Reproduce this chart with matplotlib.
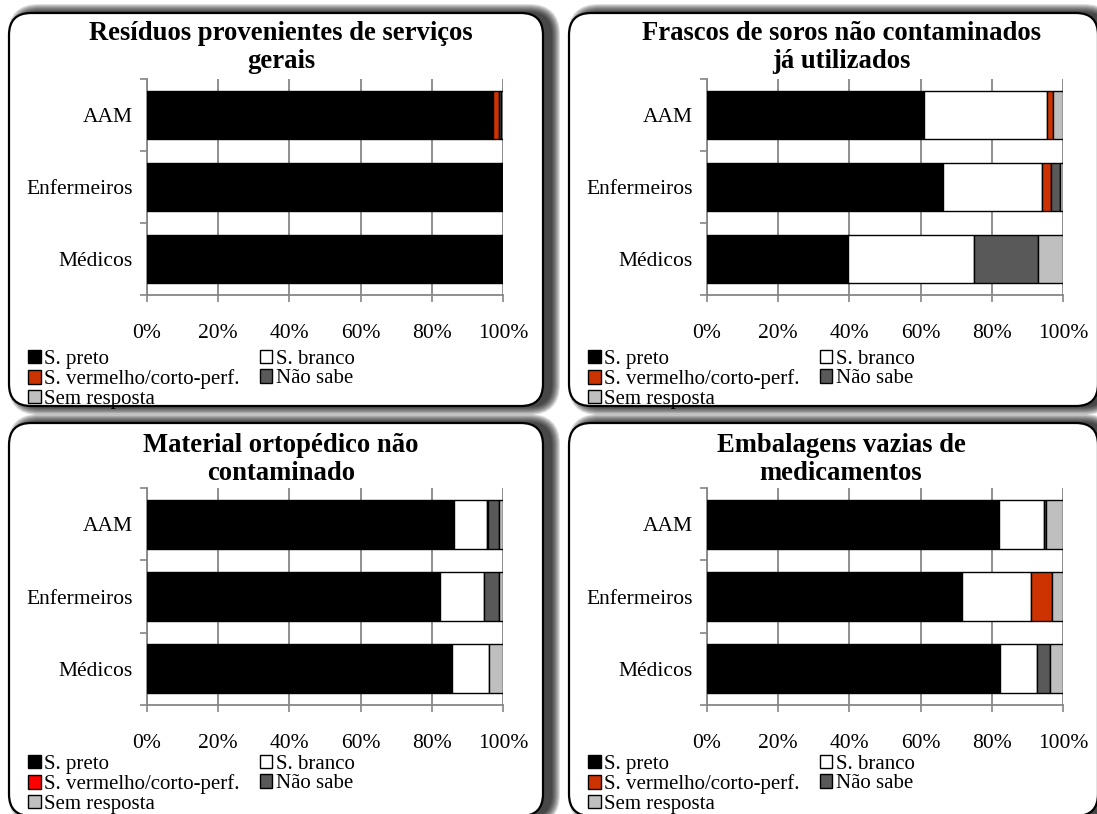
import numpy as np
import matplotlib.pyplot as plt
from matplotlib.patches import FancyBboxPatch, Patch

plt.rcParams['font.family'] = ['Liberation Serif', 'DejaVu Serif']

W, H = 1097, 814

#== Dados (percentagens) ==#
grupos = ['AAM', 'Enfermeiros', 'Médicos']
categorias = ['S. preto', 'S. branco', 'S. vermelho/corto-perf.', 'Não sabe', 'Sem resposta']
cores = ['#000000', '#FFFFFF', '#CC3300', '#595959', '#BFBFBF']
cores_p3 = ['#000000', '#FFFFFF', '#FF0000', '#595959', '#BFBFBF']

titulos = [['Resíduos provenientes de serviços', 'gerais'],
           ['Frascos de soros não contaminados', 'já utilizados'],
           ['Material ortopédico não', 'contaminado'],
           ['Embalagens vazias de', 'medicamentos']]

# linhas = grupos, colunas = categorias
servicos_gerais = [[96.8, 0.4, 1.6, 0.6, 0.6],
                   [100.0, 0.0, 0.0, 0.0, 0.0],
                   [100.0, 0.0, 0.0, 0.0, 0.0]]
frascos_soros = [[61.0, 34.5, 1.6, 0.0, 2.9],
                 [66.3, 27.9, 2.5, 2.4, 0.9],
                 [39.5, 35.4, 0.0, 18.0, 7.1]]
material_orto = [[86.1, 9.4, 0.4, 3.0, 1.1],
                 [82.4, 12.2, 0.0, 4.2, 1.2],
                 [85.7, 10.5, 0.0, 0.0, 3.8]]
embalagens = [[81.9, 12.8, 0.4, 0.0, 4.9],
              [71.5, 19.6, 5.8, 0.0, 3.1],
              [82.4, 10.3, 0.0, 3.6, 3.7]]

dados = [servicos_gerais, frascos_soros, material_orto, embalagens]

# caixas dos paineis (px) e areas dos eixos (px)
caixas = [(9, 13, 543, 406), (569, 13, 1098, 406),
          (9, 423, 543, 816), (569, 423, 1098, 816)]
eixos = [(147, 79, 503, 295), (707, 79, 1063, 295),
         (147, 488, 503, 705), (707, 488, 1063, 705)]

fig = plt.figure(figsize=(W / 100, H / 100), dpi=100)
bg = fig.add_axes([0, 0, 1, 1])
bg.set_xlim(0, W)
bg.set_ylim(H, 0)
bg.axis('off')

#== Caixas arredondadas com sombra ==#
for (x0, y0, x1, y1) in caixas:
    r = 22
    for k in range(9, 0, -1):
        sh = FancyBboxPatch((x0 + 8, y0), x1 - x0, y1 - y0,
                            boxstyle=f'round,pad={k},rounding_size={r + k}',
                            facecolor='black', edgecolor='none', alpha=0.13)
        bg.add_patch(sh)
    box = FancyBboxPatch((x0, y0), x1 - x0, y1 - y0,
                         boxstyle=f'round,pad=0,rounding_size={r}',
                         facecolor='white', edgecolor='black', linewidth=1.6)
    bg.add_patch(box)

centros_tit = [281, 841, 281, 841]
ytit = [(33, 61), (33, 61), (445, 473), (445, 473)]

y = np.arange(len(grupos))
for i, vals in enumerate(dados):
    vals = np.array(vals)
    x0, y0, x1, y1 = eixos[i]
    ax = fig.add_axes([x0 / W, 1 - y1 / H, (x1 - x0) / W, (y1 - y0) / H])
    ax.set_facecolor('none')
    cs = cores_p3 if i == 2 else cores
    left = np.zeros(len(grupos))
    for j in range(len(categorias)):
        lw = [1.0 if v > 0 else 0 for v in vals[:, j]]
        ax.barh(y, vals[:, j], left=left, height=0.68, color=cs[j],
                edgecolor='black', linewidth=lw, zorder=3)
        left += vals[:, j]
    ax.set_xlim(0, 100)
    ax.set_ylim(2.5, -0.5)
    ax.set_xticks(np.arange(0, 101, 20))
    ax.set_xticklabels([f'{v}%' for v in range(0, 101, 20)], fontsize=15.5)
    ax.set_yticks(y)
    ax.set_yticklabels(grupos, fontsize=15.5)
    ax.set_yticks([-0.5, 0.5, 1.5, 2.5], minor=True)
    ax.tick_params(axis='y', which='major', length=0, pad=10)
    ax.tick_params(axis='y', which='minor', length=5, color='#868686', width=1.2)
    ax.tick_params(axis='x', length=5, color='#868686', width=1.2, pad=16)
    ax.grid(axis='x', color='#868686', linewidth=1.3, zorder=0)
    ax.set_axisbelow(True)
    for s in ['top', 'right']:
        ax.spines[s].set_visible(False)
    for s in ['left', 'bottom']:
        ax.spines[s].set_color('#868686')
        ax.spines[s].set_linewidth(1.3)

    # titulo
    cx = centros_tit[i]
    for linha, yy in zip(titulos[i], ytit[i]):
        bg.text(cx, yy, linha, ha='center', va='center', fontsize=19.2,
                fontweight='bold')

    # legenda
    hs = [Patch(facecolor=c, edgecolor='black', linewidth=1) for c in cs]
    ordem = [0, 2, 4, 1, 3]
    bx = caixas[i][0] + 19
    by = 350 if i < 2 else 755
    bg.legend([hs[k] for k in ordem], [categorias[k] for k in ordem],
              loc='upper left', bbox_to_anchor=(bx, by),
              bbox_transform=bg.transData, ncol=2, frameon=False,
              fontsize=15, handlelength=0.6, handleheight=0.6,
              handletextpad=0.15, labelspacing=0.02, columnspacing=1.0,
              borderpad=0, borderaxespad=0)
    if i < 3:
        bg.add_artist(bg.get_legend())

fig.savefig('out.png', dpi=100)
